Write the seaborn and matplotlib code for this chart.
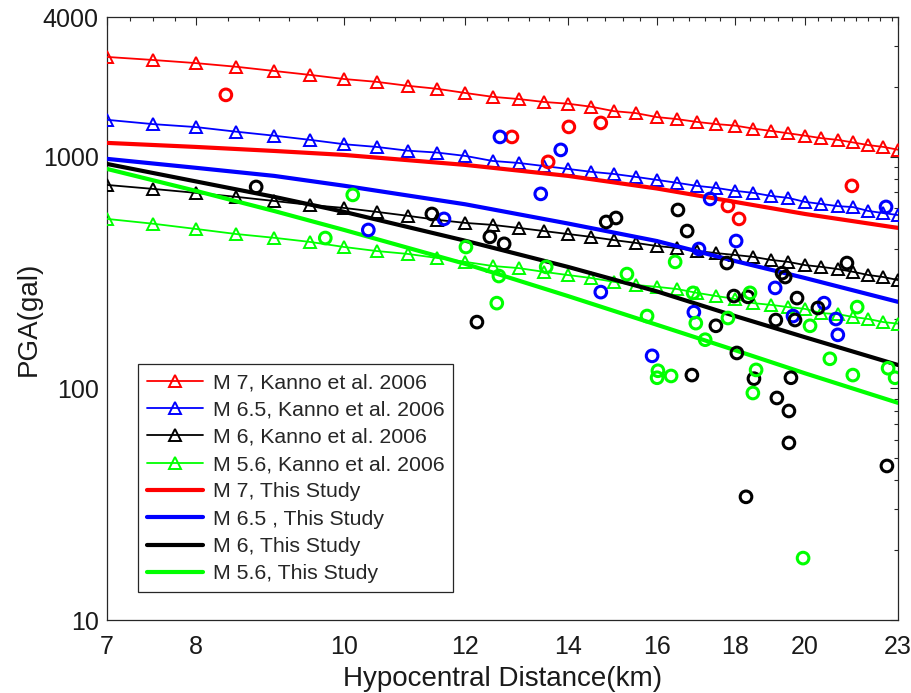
import numpy as np
import pandas as pd
import matplotlib
matplotlib.use("Agg")
import matplotlib.pyplot as plt
import seaborn as sns
from matplotlib.ticker import FixedLocator, NullFormatter

# ===================== data =====================
# Kanno et al. 2006 curves, sampled every 0.5 km
kanno_dist = [7.0, 7.5, 8.0, 8.5, 9.0, 9.5, 10.0, 10.5, 11.0, 11.5, 12.0, 12.5,
              13.0, 13.5, 14.0, 14.5, 15.0, 15.5, 16.0, 16.5, 17.0, 17.5, 18.0,
              18.5, 19.0, 19.5, 20.0, 20.5, 21.0, 21.5, 22.0, 22.5, 23.0]
kanno_m70 = [2690, 2610, 2530, 2440, 2340, 2250, 2160, 2100, 2020, 1960, 1880, 1810,
             1770, 1720, 1690, 1640, 1570, 1540, 1480, 1450, 1410, 1380, 1360, 1320,
             1290, 1260, 1230, 1200, 1180, 1150, 1120, 1100, 1070]
kanno_m65 = [1440, 1380, 1340, 1280, 1230, 1180, 1130, 1100, 1060, 1040, 1006, 957,
             938, 910, 884, 859, 841, 817, 793, 770, 747, 732, 711, 697,
             676, 663, 637, 624, 611, 605, 582, 570, 559]
kanno_m60 = [754, 725, 697, 670, 643, 618, 600, 577, 555, 533, 517, 507,
             492, 477, 463, 450, 436, 424, 411, 403, 391, 383, 376, 369,
             358, 351, 340, 334, 327, 318, 308, 302, 293]
kanno_m56 = [538, 513, 487, 463, 446, 428, 407, 391, 380, 365, 351, 337,
             330, 318, 308, 299, 288, 279, 274, 268, 258, 250, 243, 233,
             229, 224, 220, 211, 209, 203, 199, 193, 190]

# This Study curves
study_dist = [7, 8, 9, 10, 12, 14, 16, 18, 20, 23]
study_m70 = [1145, 1100, 1057, 1016, 920, 825, 728, 637, 565, 492]
study_m65 = [977, 894, 825, 748, 622, 514, 432, 354, 299, 236]
study_m60 = [929, 781, 670, 577, 433, 334, 262, 205, 166, 126]
study_m56 = [884, 711, 582, 482, 344, 250, 188, 146, 116, 86.5]

# observed records
obs_m70_dist = [8.37, 12.87, 14.02, 14.71, 13.59, 17.81, 18.11, 21.46]
obs_m70_pga = [1845, 1215, 1342, 1396, 948, 612, 538, 747]

obs_m65_dist = [12.64, 13.85, 13.44, 17.34, 18.03, 17.05, 14.71, 22.59, 19.12,
                10.37, 11.62, 15.89, 16.92, 19.64, 20.58, 20.95, 21.01]
obs_m65_pga = [1215, 1068, 690, 656, 432, 399, 260, 606, 271,
               482, 538, 138, 213, 205, 233, 199, 170]

obs_m60_dist = [8.76, 11.41, 12.45, 12.72, 14.83, 15.05, 16.52, 16.75, 17.78, 21.30,
                19.32, 19.41, 17.97, 18.35, 19.76, 20.39, 19.14, 19.70, 17.49, 18.05,
                16.87, 18.52, 19.58, 19.17, 19.52, 19.52, 22.62, 18.30, 12.21]
obs_m60_pga = [739, 565, 450, 420, 522, 543, 588, 477, 347, 347,
               314, 302, 250, 248, 245, 222, 197, 197, 186, 142,
               114, 110, 111, 90.8, 79.8, 58.1, 46.2, 34.0, 193]

obs_m56_dist = [10.13, 9.72, 12.01, 12.62, 12.58, 13.55, 15.30, 16.45, 16.90, 18.41,
                15.77, 16.97, 17.21, 17.81, 20.15, 21.63, 20.76, 21.49, 22.66, 22.90,
                18.58, 18.49, 16.03, 16.01, 16.35, 19.94]
obs_m56_pga = [683, 445, 407, 305, 233, 334, 311, 351, 258, 258,
               205, 191, 162, 201, 186, 224, 134, 114, 122, 111,
               120, 95.4, 119, 111, 113, 18.5]

COLORS = {"7": "#ff0000", "6.5": "#0000ff", "6": "#000000", "5.6": "#00ff00"}

x_major = [7, 8, 10, 12, 14, 16, 18, 20, 23]
y_major = [10, 100, 1000, 4000]

# ===================== style =====================
sns.set_style("white")
plt.rcParams['font.family'] = ['Liberation Sans', 'DejaVu Sans']
plt.rcParams['axes.unicode_minus'] = False

fig = plt.figure(figsize=(9.12, 6.93), dpi=100)
ax = fig.add_axes([107 / 912, 73 / 693, 791 / 912, 603 / 693])

kanno = [("7", kanno_m70, "M 7, Kanno et al. 2006"),
         ("6.5", kanno_m65, "M 6.5, Kanno et al. 2006"),
         ("6", kanno_m60, "M 6, Kanno et al. 2006"),
         ("5.6", kanno_m56, "M 5.6, Kanno et al. 2006")]
study = [("7", study_m70, "M 7, This Study"),
         ("6.5", study_m65, "M 6.5 , This Study"),
         ("6", study_m60, "M 6, This Study"),
         ("5.6", study_m56, "M 5.6, This Study")]
observed = [("7", obs_m70_dist, obs_m70_pga),
            ("6.5", obs_m65_dist, obs_m65_pga),
            ("6", obs_m60_dist, obs_m60_pga),
            ("5.6", obs_m56_dist, obs_m56_pga)]

for mag, vals, lab in kanno:
    df = pd.DataFrame({"dist": kanno_dist, "pga": vals})
    sns.lineplot(data=df, x="dist", y="pga", ax=ax, color=COLORS[mag], lw=1.3,
                 marker="^", markersize=9, markerfacecolor="none",
                 markeredgecolor=COLORS[mag], markeredgewidth=1.4,
                 label=lab, sort=False, estimator=None, zorder=3)

for mag, vals, lab in study:
    df = pd.DataFrame({"dist": study_dist, "pga": vals})
    sns.lineplot(data=df, x="dist", y="pga", ax=ax, color=COLORS[mag], lw=3,
                 label=lab, sort=False, estimator=None, zorder=4)

for mag, d, p in observed:
    df = pd.DataFrame({"dist": d, "pga": p})
    sns.scatterplot(data=df, x="dist", y="pga", ax=ax, s=70, marker="o",
                    facecolor="none", edgecolor=COLORS[mag], linewidth=2.2,
                    legend=False, zorder=5)

ax.set_xscale("log")
ax.set_yscale("log")
ax.set_xlim(7, 23)
ax.set_ylim(10, 4000)

x_minor = [7.25, 7.5, 7.75] + [v for v in np.arange(8.4, 23.0, 0.4)
                               if min(abs(v - m) for m in x_major) > 0.05]
ax.xaxis.set_major_locator(FixedLocator(x_major))
ax.xaxis.set_minor_locator(FixedLocator(x_minor))
ax.set_xticklabels([str(v) for v in x_major])
ax.xaxis.set_minor_formatter(NullFormatter())
ax.yaxis.set_major_locator(FixedLocator(y_major))
ax.set_yticklabels([str(v) for v in y_major])
y_minor = [k * 10 ** e for e in range(1, 4) for k in range(2, 10) if k * 10 ** e < 4000]
ax.yaxis.set_minor_locator(FixedLocator(y_minor))
ax.yaxis.set_minor_formatter(NullFormatter())

ax.tick_params(which="both", direction="in", top=True, right=True,
               colors="#262626", width=0.8, labelcolor="#1a1a1a")
ax.tick_params(which="major", length=6, labelsize=18)
ax.tick_params(axis="x", which="major", pad=11)
ax.tick_params(axis="y", which="major", pad=6)
ax.tick_params(which="minor", length=3)
for sp in ax.spines.values():
    sp.set_color("#262626")
    sp.set_linewidth(0.9)

ax.set_xlabel("Hypocentral Distance(km)", fontsize=20, color="#1a1a1a", labelpad=5)
ax.set_ylabel("PGA(gal)", fontsize=20, color="#1a1a1a", labelpad=1)

handles, labels = ax.get_legend_handles_labels()
leg = ax.legend(handles[:8], labels[:8], loc="lower left",
                bbox_to_anchor=(0.039, 0.046), borderaxespad=0, fontsize=15.3,
                handlelength=2.65, handletextpad=0.45, labelspacing=0.39,
                frameon=True, fancybox=False, framealpha=1, borderpad=0.42)
leg.get_frame().set_edgecolor("#262626")
leg.get_frame().set_linewidth(0.9)
leg.set_zorder(10)

fig.savefig("out.png", dpi=100)
